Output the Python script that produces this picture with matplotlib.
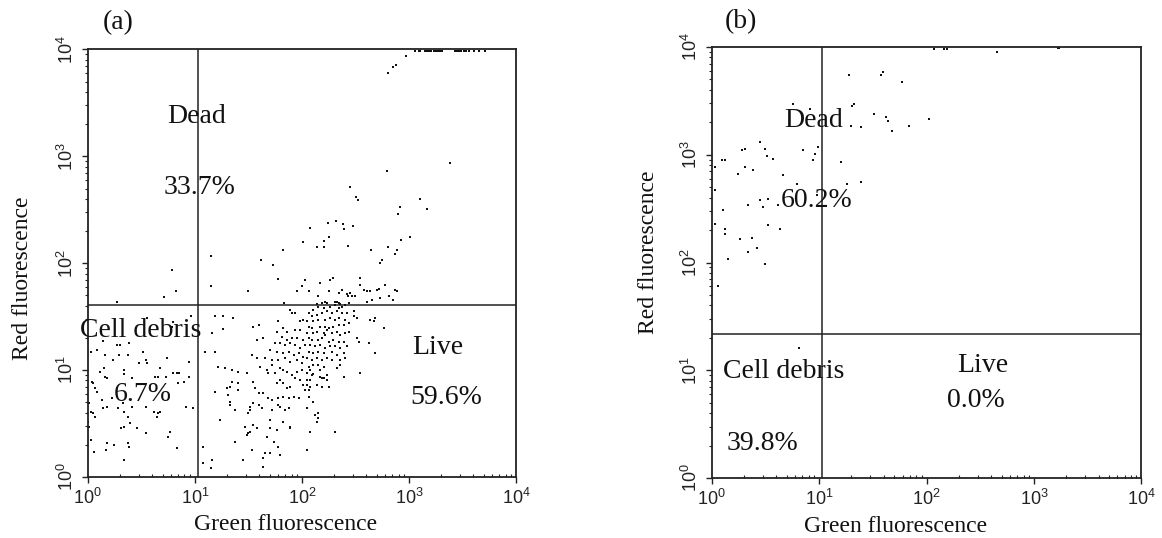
import numpy as np
import matplotlib
matplotlib.use('Agg')
from matplotlib import pyplot as plt
from matplotlib.ticker import FixedLocator, LogLocator, NullFormatter

plt.rcParams['font.family'] = ['Liberation Serif', 'DejaVu Serif']

# Events as (log10 green, log10 red) fluorescence, grouped by quadrant
# Sample (a)
debris_a = [
    (0.557, 1.487), (0.794, 1.446), (0.963, 1.502), (0.785, 1.402), (0.146, 1.268), (0.271, 1.237),
    (0.302, 1.237), (0.389, 1.252), (0.084, 1.190), (0.028, 1.165), (0.162, 1.143), (0.295, 1.143),
    (0.374, 1.143), (0.514, 1.174), (0.744, 1.112), (0.950, 1.080), (0.239, 1.096), (0.482, 1.065),
    (0.545, 1.096), (0.557, 1.071), (0.152, 1.018), (0.115, 0.986), (0.339, 1.002), (0.676, 1.018),
    (0.794, 0.971), (0.838, 0.971), (0.411, 0.925), (0.339, 0.965), (0.162, 0.940), (0.178, 0.925),
    (0.629, 0.940), (0.660, 0.940), (0.732, 0.940), (0.856, 0.971), (0.900, 0.893), (0.847, 0.878),
    (0.950, 0.940), (0.037, 0.893), (0.052, 0.878), (0.068, 0.831), (0.084, 0.799), (0.131, 0.721),
    (0.224, 0.737), (0.140, 0.643), (0.178, 0.659), (0.286, 0.643), (0.333, 0.690), (0.342, 0.612),
    (0.411, 0.659), (0.545, 0.659), (0.015, 0.690), (0.028, 0.612), (0.047, 0.602), (0.068, 0.565),
    (0.006, 0.518), (0.622, 0.612), (0.660, 0.597), (0.651, 0.565), (0.676, 0.612), (0.919, 0.659),
    (0.981, 0.643), (0.374, 0.565), (0.396, 0.503), (0.342, 0.471), (0.308, 0.456), (0.464, 0.456),
    (0.545, 0.409), (0.015, 0.471), (0.028, 0.347), (0.769, 0.424), (0.753, 0.378), (0.059, 0.237),
    (0.183, 0.316), (0.246, 0.300), (0.168, 0.253), (0.379, 0.316), (0.386, 0.284), (0.339, 0.159),
    (0.838, 0.269),
]

dead_a = [
    (0.274, 1.640), (0.716, 1.688), (0.789, 1.939), (0.820, 1.736),
    (1.151, 2.064), (1.151, 1.785), (1.498, 1.736), (1.615, 2.032), (1.729, 1.987), (1.773, 1.849),
    (1.823, 2.122), (1.836, 1.624), (1.950, 1.736), (2.000, 1.783), (2.009, 2.203), (2.076, 2.331),
    (2.145, 2.154), (2.202, 2.209), (2.208, 2.154), (2.240, 2.379), (2.256, 2.241), (2.319, 2.395),
    (2.382, 2.363), (2.397, 2.322), (2.429, 2.161), (2.451, 2.717), (2.476, 2.347), (2.508, 2.621),
    (2.524, 2.588), (2.650, 2.122), (2.729, 2.000), (2.744, 2.026), (2.792, 2.862), (2.808, 2.154),
    (2.871, 2.090), (2.886, 2.122), (2.902, 2.460), (2.912, 2.524), (2.927, 2.219), (3.013, 2.241),
    (3.107, 2.598), (3.170, 2.508), (3.385, 2.942),
    (2.031, 1.845), (2.171, 1.815), (2.264, 1.845), (2.295, 1.861), (2.062, 1.736), (2.155, 1.689),
    (2.249, 1.736), (2.342, 1.721), (2.374, 1.752), (2.421, 1.714), (2.451, 1.721), (2.430, 1.696),
    (2.467, 1.689), (2.498, 1.689), (2.545, 1.861), (2.545, 1.799), (2.576, 1.752), (2.607, 1.736),
    (2.638, 1.736), (2.701, 1.752), (2.716, 1.758), (2.779, 1.799), (2.732, 1.674), (2.810, 1.696),
    (2.847, 1.658), (2.872, 1.752), (2.888, 1.736), (2.607, 1.642), (2.654, 1.658), (2.218, 1.642),
    (2.234, 1.627), (2.311, 1.642), (2.327, 1.633), (2.342, 1.627), (2.187, 1.627), (2.140, 1.617),
    (2.358, 1.617), (2.436, 1.627),
    (2.800, 3.778), (2.847, 3.838), (2.879, 3.853), (2.972, 3.941),
    # saturated events on the upper edge
    (3.059, 3.99), (3.090, 3.99), (3.105, 3.99), (3.15, 3.99), (3.17, 3.99), (3.19, 3.99),
    (3.21, 3.99), (3.23, 3.99), (3.25, 3.99), (3.27, 3.99), (3.29, 3.99), (3.31, 3.99),
    (3.43, 3.99), (3.45, 3.99), (3.47, 3.99), (3.49, 3.99), (3.51, 3.99), (3.53, 3.99),
    (3.557, 3.99), (3.604, 3.99), (3.650, 3.99), (3.713, 3.99),
]

live_a = [
    (2.405, 1.611), (2.062, 1.534), (2.108, 1.564), (2.155, 1.595), (2.202, 1.580), (2.264, 1.595),
    (2.311, 1.611), (2.342, 1.580), (2.374, 1.595), (2.093, 1.502), (2.140, 1.518), (2.187, 1.534),
    (2.234, 1.549), (2.280, 1.534), (2.327, 1.549), (2.374, 1.534), (2.421, 1.534), (2.483, 1.549),
    (2.047, 1.455), (2.108, 1.455), (2.155, 1.471), (2.218, 1.471), (2.264, 1.487), (2.311, 1.471),
    (2.342, 1.487), (2.405, 1.471), (2.483, 1.502), (2.514, 1.487), (2.638, 1.471), (2.669, 1.455),
    (2.685, 1.487), (2.062, 1.408), (2.093, 1.393), (2.171, 1.408), (2.218, 1.408), (2.234, 1.377),
    (2.249, 1.393), (2.295, 1.408), (2.342, 1.424), (2.389, 1.424), (2.436, 1.440), (2.763, 1.393),
    (2.047, 1.346), (2.108, 1.346), (2.140, 1.361), (2.202, 1.346), (2.218, 1.330), (2.280, 1.346),
    (2.327, 1.361), (2.358, 1.330), (2.405, 1.346), (2.436, 1.361), (2.514, 1.299), (2.529, 1.267),
    (2.623, 1.252), (2.062, 1.299), (2.093, 1.283), (2.155, 1.283), (2.187, 1.299), (2.249, 1.267),
    (2.295, 1.283), (2.342, 1.267), (2.389, 1.267), (2.031, 1.237), (2.078, 1.237), (2.124, 1.221),
    (2.171, 1.237), (2.218, 1.206), (2.264, 1.221), (2.311, 1.221), (2.358, 1.206), (2.421, 1.221),
    (2.685, 1.159), (2.062, 1.174), (2.108, 1.159), (2.155, 1.174), (2.202, 1.159), (2.280, 1.174),
    (2.327, 1.143), (2.389, 1.159), (2.047, 1.112), (2.093, 1.096), (2.140, 1.112), (2.187, 1.096),
    (2.234, 1.112), (2.280, 1.096), (2.358, 1.096), (2.405, 1.112),
    (2.062, 1.033), (2.108, 1.049), (2.155, 1.049), (2.202, 1.033), (2.078, 1.002), (2.171, 1.002),
    (2.108, 0.962), (2.093, 0.955), (2.047, 0.909), (2.078, 0.909), (2.171, 0.940), (2.187, 0.925),
    (2.202, 0.925), (2.234, 0.955), (2.234, 0.909), (2.047, 0.862), (2.078, 0.846), (2.140, 0.862),
    (2.187, 0.846), (2.249, 0.846), (2.031, 0.815), (2.062, 0.815), (2.327, 1.018), (2.358, 1.049),
    (2.389, 0.940), (2.545, 0.971), (2.062, 0.752), (2.108, 0.705), (2.047, 0.643), (2.124, 0.581),
    (2.155, 0.597), (2.155, 0.550), (2.140, 0.518), (2.078, 0.424), (2.311, 0.424), (2.047, 0.253),
    (1.190, 1.502), (1.267, 1.502), (1.361, 1.487), (1.159, 1.346), (1.267, 1.384), (1.548, 1.408),
    (1.595, 1.424), (1.641, 1.299), (1.579, 1.283), (1.096, 1.174), (1.190, 1.174), (1.781, 1.455),
    (1.891, 1.564), (1.907, 1.534), (1.937, 1.534), (1.984, 1.455), (2.015, 1.471), (1.828, 1.393),
    (1.860, 1.361), (1.937, 1.377), (1.984, 1.377), (1.766, 1.361), (1.813, 1.314), (1.860, 1.283),
    (1.907, 1.299), (1.953, 1.299), (2.015, 1.283), (1.751, 1.252), (1.797, 1.252), (1.844, 1.237),
    (1.891, 1.252), (1.937, 1.237), (1.984, 1.206), (1.704, 1.190), (1.766, 1.174), (1.828, 1.159),
    (1.875, 1.174), (1.922, 1.143), (1.969, 1.159), (2.015, 1.127), (1.533, 1.143), (1.579, 1.112),
    (1.657, 1.112), (1.720, 1.096), (1.781, 1.096), (1.844, 1.112), (1.891, 1.080), (1.953, 1.096),
    (2.000, 1.065),
    (1.221, 1.033), (1.283, 1.024), (1.346, 1.002), (1.408, 0.986), (1.486, 0.971), (1.610, 1.033),
    (1.673, 1.002), (1.688, 0.971), (1.720, 1.049), (1.751, 0.971), (1.797, 1.018), (1.828, 1.002),
    (1.860, 0.986), (1.907, 0.955), (1.953, 0.986), (2.000, 1.002), (2.047, 0.971), (1.937, 0.925),
    (1.984, 0.909), (1.797, 0.909), (1.766, 0.878), (1.828, 0.878), (1.860, 0.831), (1.891, 0.846),
    (2.015, 0.862), (1.346, 0.893), (1.408, 0.878), (1.548, 0.893), (1.299, 0.831), (1.330, 0.846),
    (1.408, 0.815), (1.190, 0.793), (1.314, 0.768), (1.564, 0.831), (1.595, 0.784), (1.641, 0.784),
    (1.688, 0.737), (1.720, 0.721), (1.781, 0.737), (1.828, 0.752), (1.875, 0.737), (1.922, 0.752),
    (1.969, 0.737), (1.548, 0.690), (1.595, 0.674), (1.626, 0.643), (1.517, 0.659), (1.517, 0.627),
    (1.781, 0.674), (1.797, 0.659), (1.844, 0.627), (1.875, 0.643), (1.720, 0.627), (1.330, 0.705),
    (1.330, 0.674), (1.377, 0.627), (1.501, 0.597), (1.236, 0.534), (1.704, 0.534), (1.828, 0.518),
    (1.470, 0.471), (1.548, 0.487), (1.579, 0.456), (1.704, 0.456), (1.766, 0.440), (1.891, 0.471),
    (1.891, 0.456), (1.501, 0.409), (1.486, 0.393), (1.517, 0.424), (1.673, 0.378), (1.377, 0.331),
    (1.735, 0.331), (1.781, 0.284), (1.533, 0.253), (1.080, 0.284), (1.657, 0.222), (1.704, 0.222),
    (1.797, 0.206), (1.454, 0.159), (1.641, 0.175), (1.159, 0.159), (1.080, 0.128), (1.151, 0.080),
    (1.640, 0.096),
]

# Sample (b)
dead_b = [
    (1.278, 3.741), (1.574, 3.741), (1.592, 3.771), (1.775, 3.672), (0.760, 3.472), (0.915, 3.426),
    (1.304, 3.456), (1.325, 3.472), (1.294, 3.271), (1.387, 3.256), (1.511, 3.380), (1.623, 3.348),
    (1.639, 3.318), (1.682, 3.225), (1.840, 3.271), (2.026, 3.333), (0.450, 3.117), (0.279, 3.040),
    (0.310, 3.056), (0.496, 3.056), (0.512, 2.991), (0.574, 2.963), (0.853, 3.040), (0.993, 3.070),
    (0.962, 3.009), (0.946, 2.947), (1.201, 2.931), (0.093, 2.947), (0.124, 2.947), (0.031, 2.885),
    (0.310, 2.885), (0.388, 2.855), (0.248, 2.824), (0.667, 2.808), (0.791, 2.731), (1.263, 2.731),
    (1.387, 2.746), (0.031, 2.669), (0.341, 2.531), (0.450, 2.577), (0.480, 2.515), (0.527, 2.592),
    (0.620, 2.531), (0.978, 2.623), (0.108, 2.484), (0.031, 2.361), (0.124, 2.308), (0.124, 2.269),
    (0.527, 2.345), (0.636, 2.308), (0.264, 2.216), (0.372, 2.231), (0.341, 2.098), (0.419, 2.139),
    (0.155, 2.031), (0.496, 1.984), (0.060, 1.782),
    (2.070, 3.98), (2.163, 3.98), (2.188, 3.98), (2.652, 3.958), (3.221, 3.99), (3.231, 3.99),
]
debris_b = [(0.813, 1.202)]
live_b = []

# quadrant gates (green, red)
gate_a = (10.7, 41.0)
gate_b = (10.7, 21.5)

decades = [1, 10, 100, 1000, 10000]
decade_labels = [r'$\mathregular{10^{%d}}$' % i for i in range(5)]
tick_font = dict(fontfamily='Liberation Sans', fontsize=13, color='#222222')


def draw_panel(ax, groups, gate):
    for pts in groups:
        if not pts:
            continue
        g, r = np.array(pts).T
        ax.scatter(10 ** g, 10 ** r, s=2.4, marker='s', color='#111111', linewidths=0, zorder=2)

    ax.set_xscale('log')
    ax.set_yscale('log')
    ax.set_xlim(1, 1e4)
    ax.set_ylim(1, 1e4)

    ax.axvline(gate[0], color='#222222', lw=1.1, zorder=1)
    ax.axhline(gate[1], color='#222222', lw=1.1, zorder=1)

    for axis in (ax.xaxis, ax.yaxis):
        axis.set_major_locator(FixedLocator(decades))
        axis.set_minor_locator(LogLocator(base=10, subs=np.arange(2, 10), numticks=20))
        axis.set_minor_formatter(NullFormatter())
    ax.set_xticklabels(decade_labels, **tick_font)
    ax.set_yticklabels(decade_labels, rotation=90, va='center', **tick_font)

    ax.tick_params(which='major', length=4, width=1.0, pad=4, color='#222222')
    ax.tick_params(which='minor', length=2.5, width=0.8, color='#222222')
    ax.tick_params(axis='x', which='minor', direction='in')
    for sp in ax.spines.values():
        sp.set_linewidth(1.3)
        sp.set_color('#222222')


fig = plt.figure(figsize=(11.62, 5.38), dpi=100)
ax_a = fig.add_axes([0.0755, 0.1134, 0.3686, 0.7946])
ax_b = fig.add_axes([0.6125, 0.1115, 0.3697, 0.8011])

draw_panel(ax_a, [debris_a, dead_a, live_a], gate_a)
draw_panel(ax_b, [debris_b, dead_b, live_b], gate_b)

txt = dict(ha='center', va='center', fontsize=20, color='#111111', zorder=3)
ax_a.text(0.254, 0.843, 'Dead', transform=ax_a.transAxes, **txt)
ax_a.text(0.260, 0.678, '33.7%', transform=ax_a.transAxes, **txt)
ax_a.text(0.124, 0.342, 'Cell debris', transform=ax_a.transAxes, **txt)
ax_a.text(0.129, 0.193, '6.7%', transform=ax_a.transAxes, **txt)
ax_a.text(0.818, 0.302, 'Live', transform=ax_a.transAxes, **txt)
ax_a.text(0.837, 0.185, '59.6%', transform=ax_a.transAxes, **txt)
ax_a.text(0.071, 1.064, '(a)', transform=ax_a.transAxes, clip_on=False, **txt)

ax_b.text(0.237, 0.829, 'Dead', transform=ax_b.transAxes, **txt)
ax_b.text(0.245, 0.645, '60.2%', transform=ax_b.transAxes, **txt)
ax_b.text(0.168, 0.247, 'Cell debris', transform=ax_b.transAxes, **txt)
ax_b.text(0.119, 0.081, '39.8%', transform=ax_b.transAxes, **txt)
ax_b.text(0.632, 0.261, 'Live', transform=ax_b.transAxes, **txt)
ax_b.text(0.614, 0.181, '0.0%', transform=ax_b.transAxes, **txt)
ax_b.text(0.068, 1.060, '(b)', transform=ax_b.transAxes, clip_on=False, **txt)

lab = dict(ha='center', va='center', fontsize=17, color='#111111')
fig.text(286 / 1162, 1 - 525 / 538, 'Green fluorescence', **lab)
fig.text(896 / 1162, 1 - 527 / 538, 'Green fluorescence', **lab)
fig.text(23 / 1162, 1 - 278 / 538, 'Red fluorescence', rotation=90, **lab)
fig.text(648 / 1162, 1 - 252 / 538, 'Red fluorescence', rotation=90, **lab)

fig.savefig('out.png', dpi=100)
